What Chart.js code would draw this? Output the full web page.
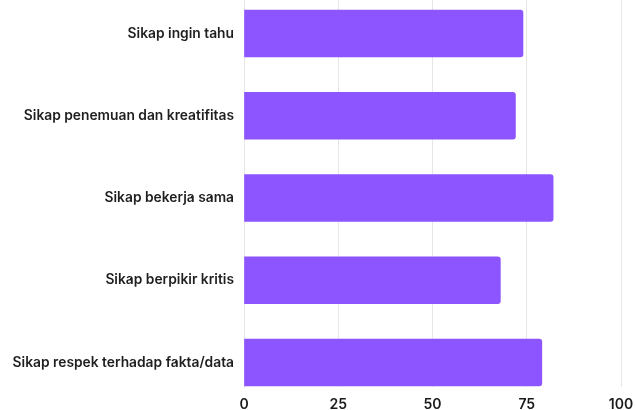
<!DOCTYPE html>
<html>
<head>
<meta charset="utf-8">
<script src="https://cdn.jsdelivr.net/npm/chart.js@4.4.1/dist/chart.umd.min.js"></script>
<style>
  html, body { margin: 0; padding: 0; background: #ffffff; }
  canvas { display: block; }
</style>
</head>
<body>
<canvas id="sikapChart" width="636" height="410"></canvas>
<script>
// Données
const categories = [
  'Sikap ingin tahu',
  'Sikap penemuan dan kreatifitas',
  'Sikap bekerja sama',
  'Sikap berpikir kritis',
  'Sikap respek terhadap fakta/data'
];
const values = [74, 72, 82, 68, 79];
const xTicks = [0, 25, 50, 75, 100];

const ctx = document.getElementById('sikapChart').getContext('2d');

// bars sit on an index axis so the bands can line up like the original
const points = values.map((v, i) => ({ x: v, y: i }));

new Chart(ctx, {
  type: 'bar',
  data: {
    datasets: [{
      data: points,
      backgroundColor: '#8c55ff',
      borderWidth: 0,
      borderRadius: 3,
      barThickness: 47
    }]
  },
  options: {
    indexAxis: 'y',
    responsive: false,
    animation: false,
    layout: { padding: { top: 0, right: 15, left: 0, bottom: 0 } },
    plugins: {
      legend: { display: false },
      tooltip: { enabled: false }
    },
    scales: {
      x: {
        type: 'linear',
        min: xTicks[0],
        max: xTicks[xTicks.length - 1],
        afterBuildTicks: (scale) => { scale.ticks = xTicks.map(v => ({ value: v })); },
        afterFit: (scale) => {
          scale.height = 23;
          scale.paddingLeft = 0;
          scale.paddingRight = 0;
        },
        grid: { color: '#e6e6e6', drawTicks: false },
        border: { display: false },
        ticks: {
          color: '#1a1a1a',
          padding: 9,
          font: { family: 'Inter', size: 14, weight: '600' }
        }
      },
      y: {
        type: 'linear',
        reverse: true,
        offset: false,
        min: -0.407,
        max: 4.298,
        afterBuildTicks: (scale) => { scale.ticks = categories.map((c, i) => ({ value: i })); },
        afterFit: (scale) => {
          scale.width = 244;
          scale.paddingTop = 0;
          scale.paddingBottom = 0;
        },
        grid: { display: false },
        border: { display: true, color: '#e6e6e6' },
        ticks: {
          color: '#1f1f1f',
          padding: 2,
          font: { family: 'Inter', size: 13.8, weight: '600' },
          callback: (v) => categories[v] ?? ''
        }
      }
    }
  }
});
</script>
</body>
</html>
